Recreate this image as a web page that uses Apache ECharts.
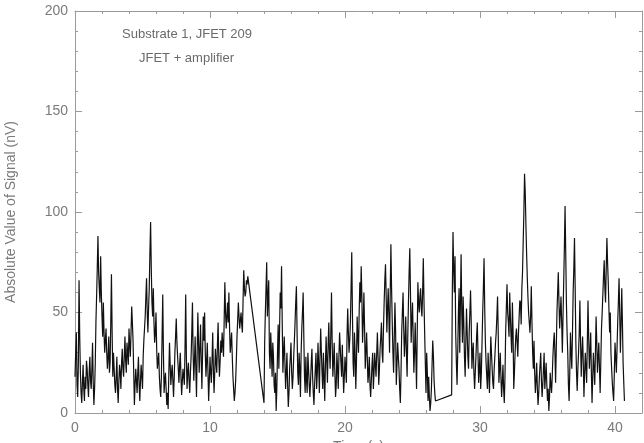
<!DOCTYPE html>
<html>
<head>
<meta charset="utf-8">
<script src="https://cdn.jsdelivr.net/npm/echarts@6/dist/echarts.min.js"></script>
<style>html,body{margin:0;padding:0;background:#fff}#c{width:644px;height:443px}</style>
</head>
<body>
<div id="c"></div>
<script>
// Sampling step (s) and the start time of each recorded segment
const sampleStep = 0.05;
const segmentStarts = [0.0, 14.0, 27.9];

// Absolute value of signal (nV), segment 1 (0.00 s .. 12.80 s)
const seg1Values = [
18,30,40,14,8,25,66,38,20,10,5,15,24,12,6,18,12,26,22,14,8,20,28,16,12,22,35,15,4,12,24,45,58,72,88,70,62,55,78,60,
48,38,55,40,30,36,42,30,22,28,38,20,25,45,69,40,18,30,22,14,10,18,28,12,5,16,24,20,12,25,32,22,18,28,38,26,20,35,30,24,
42,34,28,40,53,45,36,20,4,14,22,16,10,20,28,14,6,16,24,18,12,28,36,42,48,58,67,50,40,52,62,80,95,72,55,48,62,45,35,40,
50,32,22,26,30,18,12,8,18,38,59,30,10,16,20,12,4,10,2,20,35,24,14,20,24,16,8,18,30,38,47,35,28,22,15,24,30,18,9,16,
22,18,14,32,59,28,12,20,25,16,10,20,28,40,55,30,16,26,38,22,8,30,50,35,20,32,44,26,12,30,48,36,50,30,18,26,35,20,6,16,
28,20,15,26,40,22,10,20,32,25,20,34,45,28,18,26,36,30,40,34,28,46,65,50,42,48,55,45,60,42,30,35,40,28,18,12,6,10,16,26,
38,46,55,48,42,46,50,44,40,56,71,62,58,60,66,64,68];

// Segment 2 (14.00 s .. 26.70 s)
const seg2Values = [
5,35,50,62,75,48,58,66,30,22,40,30,18,35,28,14,10,20,1,12,30,44,22,40,60,52,73,45,20,30,38,25,12,20,30,14,3,10,22,28,
35,20,12,18,28,36,45,55,63,40,20,14,30,22,8,30,42,50,60,38,18,10,28,16,10,30,22,14,8,16,25,32,18,10,4,14,22,30,12,20,
35,24,10,28,42,30,20,12,30,18,6,24,38,26,15,34,45,30,22,40,60,35,18,26,35,20,8,14,30,22,12,28,40,32,25,18,34,22,10,18,
28,22,15,38,52,40,30,36,45,62,80,50,25,18,40,30,12,26,48,38,30,50,65,55,73,58,35,45,60,42,22,30,40,28,15,20,28,14,8,16,
24,30,12,20,30,24,18,30,40,28,14,22,32,38,45,30,25,42,55,66,74,58,40,52,62,48,30,60,84,62,45,30,20,38,55,40,14,24,35,28,
22,12,5,20,40,50,60,42,28,36,48,30,18,38,55,70,82,60,35,46,55,38,20,30,45,28,12,40,65,55,50,58,62,52,48,60,77,56,40,25,
10,30,20,6,18,8,1,5,12,24,36,28,16,10,6];

// Segment 3 (27.90 s .. 40.70 s)
const seg3Values = [
9,60,90,72,60,78,40,25,14,30,50,62,30,55,79,50,35,58,45,28,18,35,52,40,28,22,40,50,61,45,22,30,35,20,12,20,28,38,45,30,
15,22,30,12,20,35,50,62,77,52,35,25,18,12,30,20,10,24,38,30,22,15,12,22,28,35,40,48,58,40,15,22,30,18,8,15,24,12,5,18,
40,52,64,50,45,38,60,48,38,30,55,40,12,20,30,38,42,35,28,40,48,56,55,44,62,70,85,100,119,110,94,80,68,58,50,45,40,48,63,45,
30,22,36,20,10,16,25,12,4,10,18,24,30,16,8,14,22,30,12,18,25,14,6,12,1,8,20,14,10,18,28,35,40,30,15,32,50,60,70,55,
42,50,58,45,30,48,65,82,103,80,55,40,30,14,6,20,40,30,22,40,60,72,87,62,35,20,11,22,30,40,56,35,18,30,38,25,8,20,30,22,
15,35,56,38,22,30,40,20,5,18,30,22,14,30,48,35,20,28,35,22,10,26,42,50,59,68,76,62,55,72,87,75,65,52,40,50,30,22,15,10,
6,20,35,28,20,32,45,55,67,50,30,44,62,45,25,15,6];

// Axis settings
const xTicks = {min: 0, max: 42, interval: 10};
const yTicks = {min: 0, max: 200, interval: 50};
const xLabel = 'Time (s)';
const yLabel = 'Absolute Value of Signal (nV)';
const notes = ['Substrate 1, JFET 209', 'JFET + amplifier'];

const segments = [seg1Values, seg2Values, seg3Values];
const data = [];
segments.forEach((vals, s) => {
  vals.forEach((v, i) => {
    data.push([+(segmentStarts[s] + i * sampleStep).toFixed(3), v]);
  });
});

const axisGray = '#9a9a9a';
const labelGray = '#7a7a7a';
const font = 'Liberation Sans, Arial, sans-serif';

function baseAxis(extra) {
  return Object.assign({
    axisLine: {show: true, onZero: false, lineStyle: {color: axisGray, width: 1}},
    axisTick: {show: true, inside: true, length: 7, lineStyle: {color: axisGray}},
    minorTick: {show: true, splitNumber: 5, length: 3, lineStyle: {color: axisGray}},
    splitLine: {show: false},
    minorSplitLine: {show: false}
  }, extra);
}

const chart = echarts.init(document.getElementById('c'), null, {renderer: 'canvas'});
chart.setOption({
  animation: false,
  backgroundColor: '#fff',
  grid: {left: 75, right: 2, top: 11, bottom: 30, containLabel: false, outerBoundsMode: 'none'},
  graphic: [
    {type: 'text', left: 122, top: 28, style: {text: notes[0], font: '13px ' + font, fill: '#6a6a6a'}},
    {type: 'text', left: 139, top: 52, style: {text: notes[1], font: '13px ' + font, fill: '#6a6a6a'}}
  ],
  xAxis: [
    baseAxis({type: 'value', min: xTicks.min, max: xTicks.max, interval: xTicks.interval, position: 'bottom',
      name: xLabel, nameLocation: 'middle', nameGap: 20,
      nameTextStyle: {color: labelGray, fontSize: 14, fontFamily: font},
      axisLabel: {color: labelGray, fontSize: 14, fontFamily: font, margin: 8,
        formatter: v => (v % 10 === 0 && v <= 40) ? String(v) : ''}}),
    baseAxis({type: 'value', min: xTicks.min, max: xTicks.max, interval: xTicks.interval, position: 'top',
      axisLabel: {show: false}})
  ],
  yAxis: [
    baseAxis({type: 'value', min: yTicks.min, max: yTicks.max, interval: yTicks.interval, position: 'left',
      name: yLabel, nameLocation: 'middle', nameGap: 57,
      nameTextStyle: {color: labelGray, fontSize: 14, fontFamily: font},
      axisLabel: {color: labelGray, fontSize: 14, fontFamily: font, margin: 7}}),
    baseAxis({type: 'value', min: yTicks.min, max: yTicks.max, interval: yTicks.interval, position: 'right',
      axisLabel: {show: false}})
  ],
  series: [{
    type: 'line',
    data: data,
    xAxisIndex: 0,
    yAxisIndex: 0,
    showSymbol: false,
    symbol: 'none',
    lineStyle: {color: '#111', width: 1.2},
    silent: true
  }]
});
</script>
</body>
</html>
